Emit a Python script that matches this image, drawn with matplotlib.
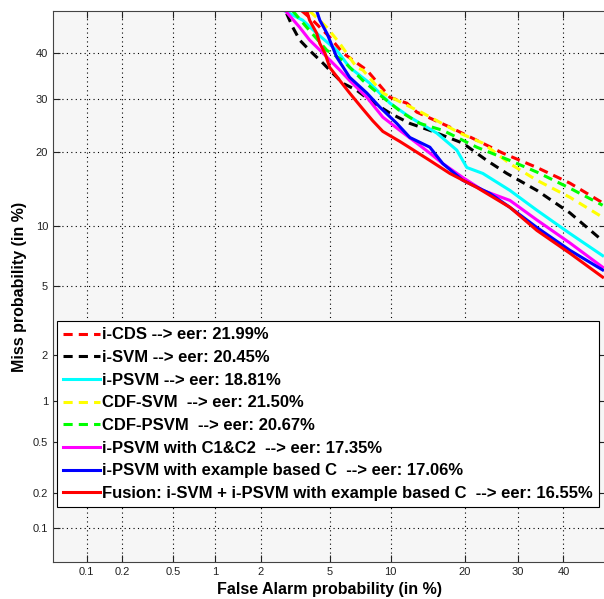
import numpy as np
import matplotlib
matplotlib.use('Agg')
from matplotlib import pyplot as plt
from statistics import NormalDist

plt.rcParams['font.family'] = ['Liberation Sans', 'DejaVu Sans']

# DET curves: (false alarm %, miss %)
icds_fa = [3.52, 4.05, 5.01, 5.87, 7.74, 9.93, 11.80, 13.01, 17.64, 22.10, 26.96, 34.05, 41.49, 49.2]
icds_miss = [50.0, 47.8, 43.8, 40.1, 36.2, 30.3, 29.1, 27.3, 24.4, 22.0, 19.8, 17.5, 15.2, 12.6]

isvm_fa = [2.87, 3.12, 3.42, 3.89, 4.60, 5.20, 5.87, 6.90, 8.00, 9.93, 12.16, 14.73, 19.71, 23.92,
           27.76, 34.05, 41.49, 49.2]
isvm_miss = [49.4, 46.1, 43.1, 40.7, 37.8, 35.5, 33.3, 31.8, 29.7, 27.1, 25.1, 23.8, 21.5, 18.6,
             16.6, 14.2, 11.4, 8.5]

ipsvm_fa = [2.80, 3.56, 4.26, 5.46, 6.36, 8.00, 9.93, 12.16, 15.70, 18.73, 20.38, 23.18, 28.37,
            34.05, 41.49, 49.2]
ipsvm_miss = [50.0, 47.8, 44.7, 40.7, 36.8, 33.3, 29.1, 26.3, 23.3, 20.3, 17.5, 16.6, 14.2,
              11.7, 9.2, 7.2]

cdfsvm_fa = [3.89, 4.84, 5.66, 6.90, 7.40, 9.21, 11.33, 13.79, 19.22, 23.18, 28.37, 34.05, 41.49, 49.2]
cdfsvm_miss = [50.0, 46.1, 42.3, 36.8, 36.2, 31.2, 29.1, 27.1, 23.3, 21.5, 18.1, 15.6, 13.3, 10.9]

cdfpsvm_fa = [3.12, 3.75, 4.84, 5.87, 7.40, 9.21, 11.33, 13.39, 16.58, 22.10, 28.37, 34.05, 41.49, 49.2]
cdfpsvm_miss = [50.0, 46.1, 40.7, 38.4, 33.9, 30.3, 27.1, 25.1, 23.8, 20.8, 18.6, 16.8, 14.5, 12.3]

c1c2_fa = [2.87, 3.42, 3.89, 4.60, 5.66, 6.36, 7.74, 9.21, 10.99, 13.01, 14.73, 16.58, 19.71,
           23.18, 28.37, 34.05, 41.49, 49.2]
c1c2_miss = [49.7, 46.1, 43.1, 40.1, 36.2, 33.9, 30.3, 26.3, 23.8, 21.5, 19.8, 18.1, 16.0,
             14.2, 12.9, 10.6, 8.3, 6.3]

exc_fa = [4.26, 4.43, 4.84, 5.46, 6.36, 7.74, 8.92, 10.66, 12.16, 14.73, 16.58, 19.71, 24.47,
          28.37, 34.05, 41.49, 49.2]
exc_miss = [50.0, 47.8, 44.7, 39.1, 34.6, 31.2, 28.3, 25.1, 22.5, 20.8, 18.1, 15.6, 13.8,
            12.05, 9.8, 7.65, 6.1]

fusion_fa = [3.75, 3.89, 4.26, 4.43, 4.72, 5.01, 5.66, 6.36, 7.40, 8.26, 9.21, 10.99, 12.16,
             14.73, 17.64, 22.10, 28.37, 34.05, 41.49, 49.2]
fusion_miss = [50.0, 47.8, 44.7, 42.3, 40.1, 36.8, 33.9, 31.2, 27.9, 25.6, 23.6, 21.8, 20.7,
               18.6, 16.6, 14.6, 12.05, 9.5, 7.4, 5.6]

tick_vals = [0.1, 0.2, 0.5, 1, 2, 5, 10, 20, 30, 40]
tick_labels = ['0.1', '0.2', '0.5', '1', '2', '5', '10', '20', '30', '40']

nd = NormalDist()
_ppf = np.vectorize(nd.inv_cdf, otypes=[float])
_cdf = np.vectorize(nd.cdf, otypes=[float])


def fwd(p):
    p = np.clip(np.asarray(p, dtype=float) / 100.0, 1e-9, 1 - 1e-9)
    return _ppf(p)


def inv(z):
    return _cdf(np.asarray(z, dtype=float)) * 100.0


fig = plt.figure(figsize=(6.04, 5.99), dpi=100)
W, H = 604.0, 599.0
ax = fig.add_axes([53 / W, (H - 562) / H, (606 - 53) / W, (562 - 11) / H])
ax.set_facecolor('#f6f6f6')
ax.set_xscale('function', functions=(fwd, inv))
ax.set_yscale('function', functions=(fwd, inv))

lw = 2.2
dash = (0, (3, 2))
ax.plot(icds_fa, icds_miss, color='red', lw=lw, ls=dash, label='i-CDS --> eer: 21.99%')
ax.plot(isvm_fa, isvm_miss, color='black', lw=lw, ls=dash, label='i-SVM --> eer: 20.45%')
ax.plot(ipsvm_fa, ipsvm_miss, color='cyan', lw=lw, label='i-PSVM --> eer: 18.81%')
ax.plot(cdfsvm_fa, cdfsvm_miss, color='yellow', lw=lw, ls=dash, label='CDF-SVM  --> eer: 21.50%')
ax.plot(cdfpsvm_fa, cdfpsvm_miss, color='lime', lw=lw, ls=dash, label='CDF-PSVM  --> eer: 20.67%')
ax.plot(c1c2_fa, c1c2_miss, color='magenta', lw=lw, label='i-PSVM with C1&C2  --> eer: 17.35%')
ax.plot(exc_fa, exc_miss, color='blue', lw=lw, label='i-PSVM with example based C  --> eer: 17.06%')
ax.plot(fusion_fa, fusion_miss, color='red', lw=lw,
        label='Fusion: i-SVM + i-PSVM with example based C  --> eer: 16.55%')

ax.set_xlim(0.05, 50)
ax.set_ylim(0.05, 50)
ax.set_xticks(tick_vals)
ax.set_xticklabels(tick_labels)
ax.set_yticks(tick_vals)
ax.set_yticklabels(tick_labels)
ax.minorticks_off()
ax.tick_params(direction='in', length=5, top=True, right=True, labelsize=8, colors='#222222')
ax.grid(True, ls=(0, (1, 3)), color='black', lw=0.8)
for s in ax.spines.values():
    s.set_color('#444444')

ax.set_xlabel('False Alarm probability (in %)', fontsize=11.5, fontweight='bold')
ax.set_ylabel('Miss probability (in %)', fontsize=11.5, fontweight='bold')

leg = ax.legend(loc='upper left', bbox_to_anchor=(57 / W, (H - 321) / H),
                bbox_transform=fig.transFigure, fancybox=False, framealpha=1,
                edgecolor='black', prop={'weight': 'bold', 'size': 12},
                handlelength=2.2, handletextpad=0.12, labelspacing=0.46,
                borderpad=0.38, borderaxespad=0)
leg.get_frame().set_linewidth(0.8)

fig.savefig('out.png', dpi=100)
